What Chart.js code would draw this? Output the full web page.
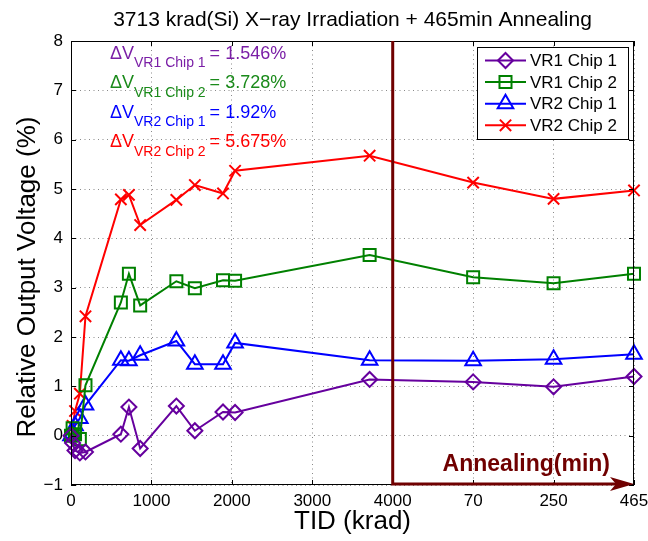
<!DOCTYPE html>
<html>
<head>
<meta charset="utf-8">
<script src="https://cdn.jsdelivr.net/npm/chart.js@4"></script>
<style>
  html, body { margin: 0; padding: 0; background: #fff; }
  #wrap { width: 648px; height: 541px; }
</style>
</head>
<body>
<div id="wrap"><canvas id="chart" width="648" height="541"></canvas></div>
<script>
const FONT = "'Liberation Sans', Arial, Helvetica, sans-serif";

// TID doses (krad) then annealing times (min)
const tidDose = [0, 20, 50, 110, 180, 620, 720, 860, 1310, 1540, 1890, 2040, 3713];
const annealMin = [70, 250, 465];
const xTickLabels = ['0', '1000', '2000', '3000', '4000', '70', '250', '465'];

const seriesNames = ['VR1 Chip 1', 'VR1 Chip 2', 'VR2 Chip 1', 'VR2 Chip 2'];
const vr1Chip1 = [0, -0.15, -0.3, -0.35, -0.33, 0.03, 0.58, -0.26, 0.6, 0.1, 0.48, 0.47, 1.14, 1.09, 0.99, 1.2];
const vr1Chip2 = [0, 0.15, 0.03, -0.07, 1.02, 2.7, 3.28, 2.64, 3.13, 2.99, 3.15, 3.14, 3.66, 3.21, 3.09, 3.28];
const vr2Chip1 = [0, 0.05, 0.2, 0.35, 0.62, 1.53, 1.52, 1.63, 1.92, 1.45, 1.45, 1.88, 1.53, 1.52, 1.55, 1.65];
const vr2Chip2 = [0, 0.2, 0.5, 0.85, 2.42, 4.79, 4.88, 4.27, 4.78, 5.08, 4.91, 5.37, 5.675, 5.13, 4.8, 4.97];

const deltaV = ['1.546%', '3.728%', '1.92%', '5.675%'];
const textColors = ['#7a1ea6', '#1a8a1a', '#0000ff', '#ff0000'];

// annealing steps sit one 1000-krad slot apart after 4000
const xPos = tidDose.concat(annealMin.map((m, i) => 5000 + i * 1000));
const toPoints = vals => vals.map((v, i) => ({ x: xPos[i], y: v }));

const styles = [
  { color: '#66009e', shape: 'rectRot', r: 7.5 },
  { color: '#008000', shape: 'rect', r: 8.5 },
  { color: '#0000ff', shape: 'triangle', r: 9 },
  { color: '#ff0000', shape: 'crossRot', r: 8 },
];
const allSeries = [vr1Chip1, vr1Chip2, vr2Chip1, vr2Chip2];

const datasets = allSeries.map((vals, i) => ({
  label: seriesNames[i],
  data: toPoints(vals),
  borderColor: styles[i].color,
  backgroundColor: 'rgba(0,0,0,0)',
  borderWidth: 2,
  pointStyle: styles[i].shape,
  pointRadius: styles[i].r,
  pointBorderWidth: 2,
  pointBackgroundColor: 'rgba(0,0,0,0)',
  pointHoverRadius: styles[i].r,
  tension: 0,
  clip: false,
}));

const maroon = '#700000';

const decor = {
  id: 'decor',
  afterDatasetsDraw(chart) {
    const { ctx, chartArea: a, scales: { x, y } } = chart;
    ctx.save();

    // axes box + inward ticks
    ctx.strokeStyle = '#000';
    ctx.lineWidth = 1;
    ctx.strokeRect(a.left + 0.5, a.top + 0.5, a.right - a.left - 1, a.bottom - a.top - 1);
    ctx.beginPath();
    x.ticks.forEach(t => {
      const px = Math.round(x.getPixelForValue(t.value)) + 0.5;
      ctx.moveTo(px, a.bottom); ctx.lineTo(px, a.bottom - 5);
      ctx.moveTo(px, a.top); ctx.lineTo(px, a.top + 5);
    });
    y.ticks.forEach(t => {
      const py = Math.round(y.getPixelForValue(t.value)) + 0.5;
      ctx.moveTo(a.left, py); ctx.lineTo(a.left + 5, py);
      ctx.moveTo(a.right, py); ctx.lineTo(a.right - 5, py);
    });
    ctx.stroke();

    // annealing divider + arrow
    const x4k = x.getPixelForValue(4000);
    const xEnd = x.getPixelForValue(7000);
    const yBot = y.getPixelForValue(-1);
    ctx.strokeStyle = maroon;
    ctx.fillStyle = maroon;
    ctx.lineWidth = 3;
    ctx.beginPath();
    ctx.moveTo(x4k, a.top);
    ctx.lineTo(x4k, yBot - 1);
    ctx.lineTo(xEnd - 18, yBot - 1);
    ctx.stroke();
    ctx.beginPath();
    ctx.moveTo(xEnd, yBot - 1);
    ctx.lineTo(xEnd - 24, yBot - 8);
    ctx.lineTo(xEnd - 18, yBot - 1);
    ctx.lineTo(xEnd - 24, yBot + 6);
    ctx.closePath();
    ctx.fill();
    ctx.font = 'bold 23px ' + FONT;
    ctx.textAlign = 'right';
    ctx.textBaseline = 'alphabetic';
    ctx.fillText('Annealing(min)', xEnd - 24, yBot - 14);

    // delta V notes
    ctx.textAlign = 'left';
    seriesNames.forEach((name, i) => {
      const base = a.top + 17.5 + i * 29.5;
      let tx = a.left + 39;
      ctx.fillStyle = textColors[i];
      ctx.font = '18px ' + FONT;
      ctx.fillText('\u0394V', tx, base);
      tx += ctx.measureText('\u0394V').width;
      ctx.font = '14px ' + FONT;
      ctx.fillText(name, tx, base + 8.5);
      tx += ctx.measureText(name).width + 4;
      ctx.font = '18px ' + FONT;
      ctx.fillText('= ' + deltaV[i], tx, base);
    });

    // legend
    const lw = 151, lh = 92;
    const lx = a.right - 157, ly = a.top + 6;
    ctx.fillStyle = '#fff';
    ctx.fillRect(lx, ly, lw, lh);
    ctx.strokeStyle = '#000';
    ctx.lineWidth = 1;
    ctx.strokeRect(lx + 0.5, ly + 0.5, lw, lh);
    chart.data.datasets.forEach((ds, i) => {
      const cy = ly + 13.5 + i * 21.6;
      ctx.strokeStyle = ds.borderColor;
      ctx.lineWidth = 2;
      ctx.beginPath();
      ctx.moveTo(lx + 8, cy); ctx.lineTo(lx + 49, cy);
      ctx.stroke();
      ctx.fillStyle = 'rgba(0,0,0,0)';
      Chart.helpers.drawPoint(ctx, { pointStyle: ds.pointStyle, radius: ds.pointRadius, borderWidth: 2, rotation: 0 }, lx + 28.5, cy);
      ctx.fillStyle = '#000';
      ctx.font = '17px ' + FONT;
      ctx.textBaseline = 'middle';
      ctx.fillText(ds.label, lx + 53, cy + 1);
      ctx.textBaseline = 'alphabetic';
    });

    // title
    ctx.fillStyle = '#000';
    ctx.font = '21px ' + FONT;
    ctx.textAlign = 'center';
    ctx.textBaseline = 'middle';
    ctx.fillText('3713 krad(Si) X\u2212ray Irradiation + 465min Annealing', (a.left + a.right) / 2, 20);

    // y axis title
    ctx.font = '26px ' + FONT;
    ctx.translate(28, (a.top + a.bottom) / 2 + 14);
    ctx.rotate(-Math.PI / 2);
    ctx.fillText('Relative Output Voltage (%)', 0, 0);
    ctx.restore();
  },
};

Chart.defaults.font.family = FONT;
Chart.defaults.color = '#000';

new Chart(document.getElementById('chart'), {
  type: 'line',
  data: { datasets },
  options: {
    responsive: false,
    animation: false,
    layout: { padding: { top: 41, right: 14, left: 0, bottom: 0 } },
    plugins: { legend: { display: false }, tooltip: { enabled: false } },
    scales: {
      x: {
        type: 'linear',
        min: 0,
        max: 7000,
        ticks: {
          stepSize: 1000,
          autoSkip: false,
          maxRotation: 0,
          padding: 6,
          font: { size: 17 },
          callback: v => xTickLabels[Math.round(v / 1000)],
        },
        grid: { color: '#8a8a8a', lineWidth: 1, drawTicks: false },
        border: { display: false, dash: [1, 3.5] },
        title: { display: true, text: 'TID (krad)', font: { size: 26 }, padding: { top: 0, bottom: 4 } },
        afterFit: s => { s.height = 56; s.paddingLeft = 0; s.paddingRight = 0; },
      },
      y: {
        min: -1,
        max: 8,
        ticks: {
          stepSize: 1,
          padding: 8,
          font: { size: 17 },
          callback: v => (v < 0 ? '\u2212' + Math.abs(v) : String(v)),
        },
        grid: { color: '#8a8a8a', lineWidth: 1, drawTicks: false },
        border: { display: false, dash: [1, 3.5] },
        afterFit: s => { s.width = 71; s.paddingTop = 0; s.paddingBottom = 0; },
      },
    },
  },
  plugins: [decor],
});
</script>
</body>
</html>
